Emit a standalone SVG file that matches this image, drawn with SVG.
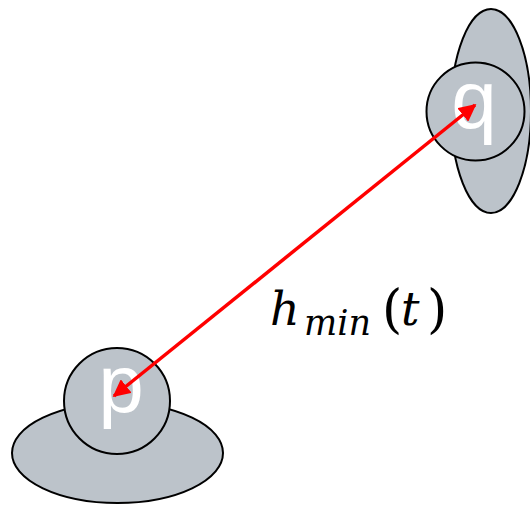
<svg xmlns="http://www.w3.org/2000/svg" width="530" height="505" viewBox="0 0 530 505">
<style>
.shape{fill:#bcc3ca;stroke:#000;stroke-width:2}
.lbl{font-family:"Liberation Sans",Arial,sans-serif;font-size:82px;fill:#fff;text-anchor:middle}
.math{font-family:"DejaVu Serif","Liberation Serif",serif;fill:#000}
.conn{stroke:#ff0000;stroke-width:3.5;fill:none}
</style>
<defs>
<marker id="ah" viewBox="0 0 10 10" refX="9" refY="5" markerWidth="5" markerHeight="5" orient="auto-start-reverse" markerUnits="strokeWidth">
<path d="M0,0 L10,5 L0,10 z" fill="#ff0000"/>
</marker>
</defs>
<g id="node-q">
<ellipse class="shape" cx="491" cy="111" rx="40" ry="102"/>
<circle class="shape" cx="475.5" cy="111.5" r="49"/>
<text class="lbl" x="474" y="128">q</text>
</g>
<g id="node-p">
<ellipse class="shape" cx="117.5" cy="453" rx="105.5" ry="50"/>
<circle class="shape" cx="117" cy="401" r="53"/>
<text class="lbl" x="121" y="412">p</text>
</g>
<g id="connectors">
<line class="conn" x1="114" y1="396" x2="475" y2="105" marker-start="url(#ah)" marker-end="url(#ah)"/>
</g>
<g id="label">
<text class="math" y="325"><tspan x="270" font-size="46" font-style="italic">h</tspan><tspan x="304" y="335" font-size="35" font-style="italic">min</tspan><tspan x="382" y="327" font-size="52">(</tspan><tspan x="401" y="325" font-size="46" font-style="italic">t</tspan><tspan x="427" y="327" font-size="52">)</tspan></text>
</g>
</svg>
